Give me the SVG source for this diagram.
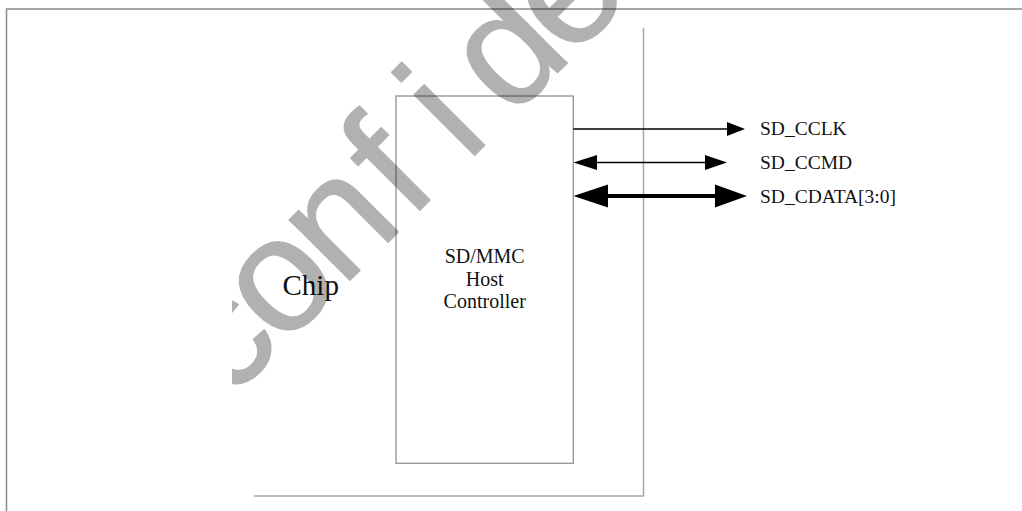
<svg xmlns="http://www.w3.org/2000/svg" width="1022" height="511" viewBox="0 0 1022 511">
  <style>
    .frame { fill: none; stroke: #8a8a8a; stroke-width: 1.5; }
    .chipline { fill: none; stroke: #a6a6a6; stroke-width: 1.5; }
    .box { fill: #ffffff; stroke: #999999; stroke-width: 1.4; }
    .wire { stroke: #000000; stroke-width: 1.6; fill: none; }
    .bus { stroke: #000000; stroke-width: 4; fill: none; }
    .head { fill: #000000; stroke: none; }
    .lbl { font-family: "Liberation Serif", "Times New Roman", serif; fill: #111111; }
    .wm { font-family: "Liberation Sans", Arial, sans-serif; font-size: 162px; fill: #000000; stroke: #000000; stroke-width: 1.5; stroke-linejoin: round; }
  </style>
  <defs>
    <clipPath id="wmclip">
      <rect x="232" y="0" width="790" height="511"/>
    </clipPath>
  </defs>
  <rect x="0" y="0" width="1022" height="511" fill="#ffffff"/>

  <g id="frame">
    <polyline class="frame" points="1022,9 6.5,9 6.5,511"/>
  </g>

  <g id="chip">
    <polyline class="chipline" points="643.5,28 643.5,496 254,496"/>
    <text class="lbl" x="282.5" y="295" font-size="29">Chip</text>
  </g>

  <g id="host-controller">
    <rect class="box" x="396" y="96" width="177.3" height="367.3"/>
    <text class="lbl" x="484.7" y="263" font-size="20" text-anchor="middle">SD/MMC</text>
    <text class="lbl" x="484.7" y="285.5" font-size="20" text-anchor="middle">Host</text>
    <text class="lbl" x="484.7" y="308" font-size="20" text-anchor="middle">Controller</text>
  </g>

  <g id="connectors">
    <line class="wire" x1="573.3" y1="129" x2="730" y2="129"/>
    <polygon class="head" points="727,122 745,129 727,136"/>

    <line class="wire" x1="590" y1="162.5" x2="710" y2="162.5"/>
    <polygon class="head" points="597,155 573.5,162.5 597,170"/>
    <polygon class="head" points="705,155 727,162.5 705,170"/>

    <line class="bus" x1="600" y1="196" x2="722" y2="196"/>
    <polygon class="head" points="608,184.5 573.5,196 608,207.5"/>
    <polygon class="head" points="715,184.5 747,196 715,207.5"/>
  </g>

  <g id="signal-labels">
    <text class="lbl" x="760" y="135" font-size="19.5">SD_CCLK</text>
    <text class="lbl" x="760" y="168.5" font-size="19.5">SD_CCMD</text>
    <text class="lbl" x="760" y="203" font-size="19.5">SD_CDATA[3:0]</text>
  </g>

  <g id="watermark" clip-path="url(#wmclip)" opacity="0.3">
    <text class="wm" transform="rotate(-45)" x="-123 -47 38 134 215 277 360" y="445.5">confidential</text>
  </g>
</svg>
